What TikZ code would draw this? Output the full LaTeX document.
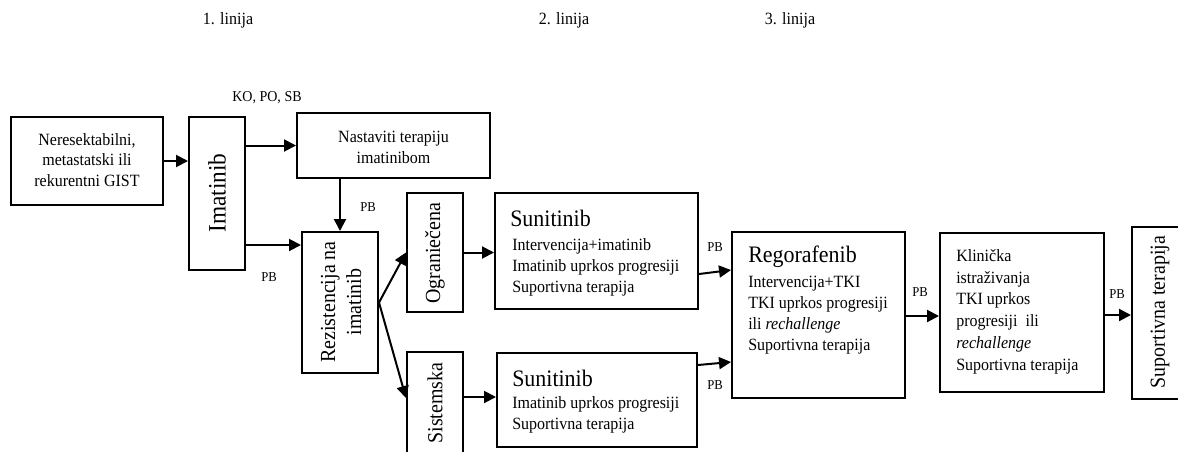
\documentclass[tikz,border=0pt]{standalone}
\usepackage{fontspec}
\setmainfont[FakeStretch=0.93]{Liberation Serif}
\usetikzlibrary{arrows.meta,calc}
\newcommand\bodyfont{\fontsize{12.9}{15.75}\selectfont}
\begin{document}
\begin{tikzpicture}[x=0.75pt,y=-0.75pt,
  box/.style={draw,line width=1.5pt,inner sep=0pt},
  txt/.style={inner sep=0pt,font=\bodyfont},
  rot/.style={inner sep=0pt,rotate=90,align=center,font=\fontsize{16.1}{19.5}\selectfont},
  big/.style={font=\fontsize{17.7}{20}\selectfont},
  lbl/.style={inner sep=0pt,font=\fontsize{10.2}{12}\selectfont},
  arr/.style={line width=1.5pt,-{Triangle[length=9pt,width=9pt]}}]
\useasboundingbox (0,0) rectangle (1178,451);
\clip (0,0) rectangle (1178,451);
% headings
\node[txt] (h1) at (228,20) {1. linija};
\node[txt] (h2) at (564,20) {2. linija};
\node[txt] (h3) at (790,20) {3. linija};
% boxes
\node[box,minimum width=152*0.75pt,minimum height=88*0.75pt] (A) at (87,161) {};
\node[box,minimum width=56*0.75pt,minimum height=153*0.75pt] (Ima) at (217,193.5) {};
\node[box,minimum width=193*0.75pt,minimum height=65*0.75pt] (Nast) at (393.5,145.5) {};
\node[box,minimum width=76*0.75pt,minimum height=141*0.75pt] (Rez) at (340,302.5) {};
\node[box,minimum width=56*0.75pt,minimum height=119*0.75pt] (Ogr) at (435,252.5) {};
\node[box,minimum width=56*0.75pt,minimum height=128*0.75pt] (Sis) at (435,416) {};
\node[box,minimum width=203*0.75pt,minimum height=116*0.75pt] (Sun1) at (596.5,251) {};
\node[box,minimum width=200*0.75pt,minimum height=94*0.75pt] (Sun2) at (597,400) {};
\node[box,minimum width=173*0.75pt,minimum height=166*0.75pt] (Reg) at (818.5,315) {};
\node[box,minimum width=164*0.75pt,minimum height=159*0.75pt] (Kl) at (1022,312.5) {};
\node[box,minimum width=56*0.75pt,minimum height=172*0.75pt] (Sup) at (1160,313) {};
% texts
\node[txt,align=center,font=\fontsize{12.9}{15.4}\selectfont] (tA) at (87,160) {Neresektabilni,\\metastatski ili\\rekurentni GIST};
\node[txt,align=center] (tNast) at (393.5,147) {Nastaviti terapiju\\imatinibom};
\node[rot,font=\fontsize{18.8}{20}\selectfont] (tIma) at (217,193) {Imatinib};
\node[rot] (tRez) at (341,302) {Rezistencija na\\imatinib};
\node[rot] (tOgr) at (435,253) {Ograniečena};
\node[rot] (tSis) at (435,403) {Sistemska};
\node[rot] (tSup) at (1160,312) {Suportivna terapija};
\node[txt,big,anchor=west] (tSun1) at (510,218) {Sunitinib};
\node[txt,anchor=north west,align=left] (lSun1) at (512,238) {Intervencija+imatinib\\Imatinib uprkos progresiji\\Suportivna terapija};
\node[txt,big,anchor=west] (tSun2) at (512,378) {Sunitinib};
\node[txt,anchor=north west,align=left] (lSun2) at (512,396) {Imatinib uprkos progresiji\\Suportivna terapija};
\node[txt,big,anchor=west] (tReg) at (748,257) {Regorafenib};
\node[txt,anchor=north west,align=left] (lReg) at (748,276) {Intervencija+TKI\\TKI uprkos progresiji\\ili \textit{rechallenge}\\Suportivna terapija};
\node[txt,anchor=north west,align=left,font=\fontsize{12.9}{16.35}\selectfont] (lKl) at (956,249) {Klinička\\istraživanja\\TKI uprkos\\progresiji\ \ ili\\\textit{rechallenge}\\Suportivna terapija};
% connector labels
\node[lbl,font=\fontsize{11.3}{13}\selectfont] (ko) at (267,98) {KO, PO, SB};
\node[lbl] (pb1) at (269,277) {PB};
\node[lbl] (pb2) at (368,207) {PB};
\node[lbl] (pb3) at (715,247) {PB};
\node[lbl] (pb4) at (715,385) {PB};
\node[lbl] (pb5) at (920,292) {PB};
\node[lbl] (pb6) at (1117,294) {PB};
% connectors
\draw[arr] (A.east) -- (A.east -| Ima.west);
\draw[arr] (Ima.east |- Nast.west) -- (Nast.west);
\draw[arr] (Ima.east |- 0,245) -- (Rez.west |- 0,245);
\draw[arr] (Rez.north |- Nast.south) -- (Rez.north);
\draw[arr] (Rez.east) -- (Ogr.west);
\draw[arr] (Rez.east) -- (Sis.west |- 0,398);
\draw[arr] (Ogr.east) -- (Sun1.west |- Ogr.east);
\draw[arr] (Sis.east |- 0,397) -- (Sun2.west |- 0,397);
\draw[arr] (Sun1.east |- 0,274) -- (Reg.west |- 0,270);
\draw[arr] (Sun2.east |- 0,365) -- (Reg.west |- 0,362);
\draw[arr] (Reg.east |- 0,316) -- (Kl.west |- 0,316);
\draw[arr] (Kl.east |- 0,315) -- (Sup.west |- 0,315);
\end{tikzpicture}
\end{document}
